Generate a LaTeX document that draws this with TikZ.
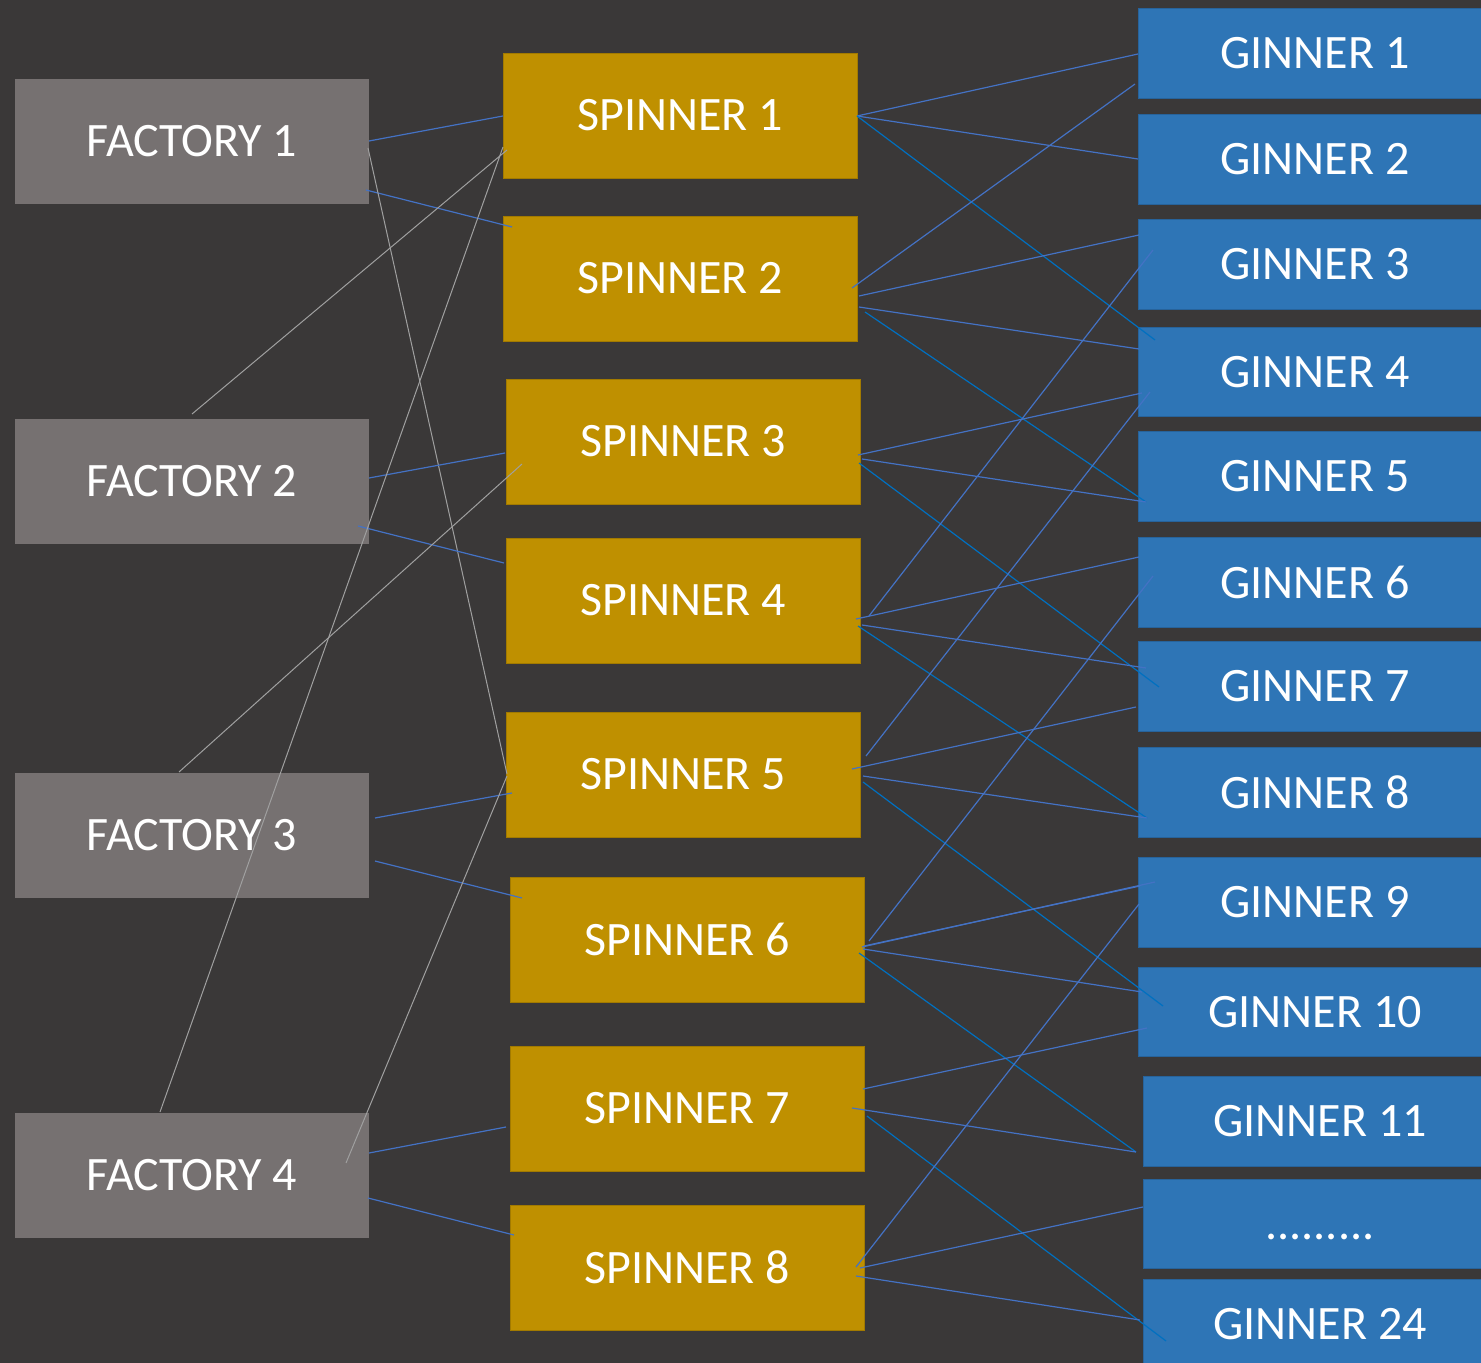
\documentclass[tikz,border=0pt]{standalone}
\usepackage{fontspec}
\setmainfont{Carlito}
\usetikzlibrary{calc}
\definecolor{bgc}{HTML}{3A3838}
\definecolor{facc}{HTML}{767171}
\definecolor{spinc}{HTML}{BF9000}
\definecolor{ginc}{HTML}{2E75B6}
\definecolor{lnblue}{HTML}{4472C4}
\definecolor{lndeep}{HTML}{0070C0}
\definecolor{lngray}{HTML}{A0A0A0}
\tikzset{
  box/.style={rectangle, inner sep=0pt, outer sep=0pt, text=white,
    font=\fontsize{24}{28}\selectfont, minimum width=177pt},
  fac/.style={box, fill=facc, minimum height=62.5pt},
  spin/.style={box, fill=spinc, draw=spinc!85!black, line width=0.4pt, minimum height=62.5pt},
  gin/.style={box, fill=ginc, draw=ginc!85!black, line width=0.4pt, minimum height=44.75pt},
  fsl/.style={draw=lnblue, line width=0.6pt},
  grl/.style={draw=lngray, line width=0.5pt},
  sgl/.style={draw=lnblue, line width=0.6pt},
  sgd/.style={draw=lndeep, line width=0.6pt},
}
\begin{document}
\begin{tikzpicture}[x=0.5pt,y=-0.5pt]
\clip (0,0) rectangle (1481,1363);
\fill[bgc] (0,0) rectangle (1481,1363);
% factories
\node[fac] (f1) at (192,141.5) {FACTORY 1};
\node[fac] (f2) at (192,481.5) {FACTORY 2};
\node[fac] (f3) at (192,835.5) {FACTORY 3};
\node[fac] (f4) at (192,1175.5) {FACTORY 4};
% spinners
\node[spin] (s1) at (680,115.5) {SPINNER 1};
\node[spin] (s2) at (680,278.5) {SPINNER 2};
\node[spin] (s3) at (683,441.5) {SPINNER 3};
\node[spin] (s4) at (683,600.5) {SPINNER 4};
\node[spin] (s5) at (683,774.5) {SPINNER 5};
\node[spin] (s6) at (687,939.5) {SPINNER 6};
\node[spin] (s7) at (687,1108.5) {SPINNER 7};
\node[spin] (s8) at (687,1267.5) {SPINNER 8};
% ginners
\node[gin] (g1) at (1315,53.5) {GINNER 1};
\node[gin] (g2) at (1315,159.5) {GINNER 2};
\node[gin] (g3) at (1315,264.5) {GINNER 3};
\node[gin] (g4) at (1315,372) {GINNER 4};
\node[gin] (g5) at (1315,476.5) {GINNER 5};
\node[gin] (g6) at (1315,582.5) {GINNER 6};
\node[gin] (g7) at (1315,686.5) {GINNER 7};
\node[gin] (g8) at (1315,792.5) {GINNER 8};
\node[gin] (g9) at (1315,902.5) {GINNER 9};
\node[gin] (g10) at (1315,1012) {GINNER 10};
\node[gin] (g11) at (1320,1121.5) {GINNER 11};
\node[gin] (gd) at (1320,1224) {\vphantom{G}.........};
\node[gin] (g24) at (1320,1324) {GINNER 24};
% factory - spinner connectors
\draw[fsl] ($(f1.east)+(0,-0.5)$) -- ($(s1.west)+(0,0.5)$);
\draw[fsl] ($(f1.east)+(-3,48.5)$) -- ($(s2.west)+(9,-51.5)$);
\draw[grl] ($(f1.east)+(-1,6.5)$) -- ($(s5.west)+(1,-0.5)$);
\draw[grl] ($(f2.north)+(0,-5)$) -- ($(s1.west)+(4,34.5)$);
\draw[fsl] ($(f2.east)+(0,-3.5)$) -- ($(s3.west)+(-1,11.5)$);
\draw[fsl] ($(f2.east)+(-11,44.5)$) -- ($(s4.west)+(-2,-37.5)$);
\draw[grl] ($(f3.north)+(-13,-1)$) -- ($(s3.west)+(16,22.5)$);
\draw[fsl] ($(f3.east)+(6,-17.5)$) -- ($(s5.west)+(6,18.5)$);
\draw[fsl] ($(f3.east)+(6,25.5)$) -- ($(s6.west)+(12,-41.5)$);
\draw[grl] ($(f4.north)+(-32,-1)$) -- ($(s1.west)+(0,31.5)$);
\draw[fsl] ($(f4.east)+(0,-22.5)$) -- ($(s7.west)+(-4,18.5)$);
\draw[fsl] ($(f4.east)+(-1,22.5)$) -- ($(s8.west)+(4,-32.5)$);
\draw[grl] ($(f4.east)+(-23,-12.5)$) -- ($(s5.west)+(1,1.5)$);
% spinner - ginner connectors
\draw[sgl] ($(s1.east)+(0,0.5)$) -- ($(g1.west)+(0,0.5)$);
\draw[sgl] ($(s1.east)+(0,0.5)$) -- ($(g2.west)+(0,-0.5)$);
\draw[sgd] ($(s1.east)+(0,0.5)$) -- ($(g4.west)+(17,-32)$);
\draw[sgl] ($(s2.east)+(-5,9.5)$) -- ($(g1.west)+(-3,30.5)$);
\draw[sgl] ($(s2.east)+(2,17.5)$) -- ($(g3.west)+(1,-29.5)$);
\draw[sgl] ($(s2.east)+(2,28.5)$) -- ($(g4.west)+(1,-23)$);
\draw[sgd] ($(s2.east)+(8,33.5)$) -- ($(g5.west)+(8,25.5)$);
\draw[sgl] ($(s3.east)+(-2,13.5)$) -- ($(g4.west)+(4,21)$);
\draw[sgl] ($(s3.east)+(2,17.5)$) -- ($(g5.west)+(8,25.5)$);
\draw[sgd] ($(s3.east)+(-1,21.5)$) -- ($(g7.west)+(21,0.5)$);
\draw[sgl] ($(s4.east)+(9,15.5)$) -- ($(g3.west)+(15,-14.5)$);
\draw[sgl] ($(s4.east)+(-4,18.5)$) -- ($(g6.west)+(1,-25.5)$);
\draw[sgl] ($(s4.east)+(2,24.5)$) -- ($(g7.west)+(8,-18.5)$);
\draw[sgd] ($(s4.east)+(-2,25.5)$) -- ($(g8.west)+(9,25.5)$);
\draw[sgl] ($(s5.east)+(6,-18.5)$) -- ($(g4.west)+(12,20)$);
\draw[sgl] ($(s5.east)+(-8,-5.5)$) -- ($(g7.west)+(-2,20.5)$);
\draw[sgl] ($(s5.east)+(3,1.5)$) -- ($(g8.west)+(9,25.5)$);
\draw[sgd] ($(s5.east)+(3,7.5)$) -- ($(g10.west)+(25,-6)$);
\draw[sgl] ($(s6.east)+(5,1.5)$) -- ($(g6.west)+(15,-6.5)$);
\draw[sgl] ($(s6.east)+(-2,7.5)$) -- ($(g9.west)+(17,-20.5)$);
\draw[sgl] ($(s6.east)+(0,6.5)$) -- ($(g9.west)+(2,-16.5)$);
\draw[sgl] ($(s6.east)+(-1,9.5)$) -- ($(g10.west)+(4,-20)$);
\draw[sgd] ($(s6.east)+(-5,13.5)$) -- ($(g11.west)+(-7,30.5)$);
\draw[sgl] ($(s7.east)+(-1,-19.5)$) -- ($(g10.west)+(9,16)$);
\draw[sgl] ($(s7.east)+(-12,-0.5)$) -- ($(g11.west)+(-7,30.5)$);
\draw[sgd] ($(s7.east)+(3,7.5)$) -- ($(g24.west)+(23,17)$);
\draw[sgl] ($(s8.east)+(-8,-0.5)$) -- ($(g9.west)+(1,1.5)$);
\draw[sgl] ($(s8.east)+(-4,0.5)$) -- ($(gd.west)+(0,-17)$);
\draw[sgl] ($(s8.east)+(-8,8.5)$) -- ($(g24.west)+(-3,-4)$);
\end{tikzpicture}
\end{document}
